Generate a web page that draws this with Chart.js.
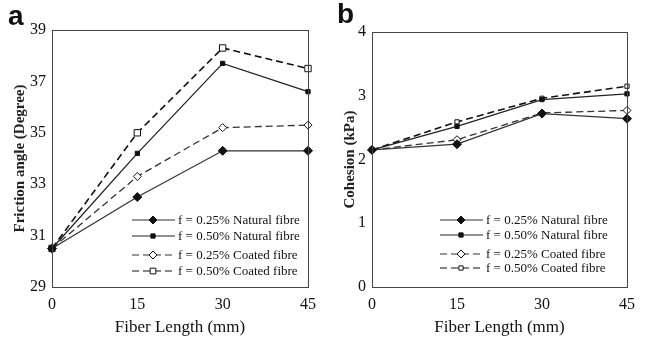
<!DOCTYPE html>
<html>
<head>
<meta charset="utf-8">
<script src="https://cdn.jsdelivr.net/npm/chart.js@4.4.0/dist/chart.umd.min.js"></script>
<style>
  body { margin: 0; background: #fff; }
  #wrap { position: relative; width: 655px; height: 341px; overflow: hidden; }
  .box { position: absolute; top: 0; height: 341px; }
  .panel { position: absolute; font-family: "Liberation Sans", Arial, sans-serif; font-weight: bold; font-size: 28px; line-height: 28px; color: #111; }
</style>
</head>
<body>
<div id="wrap">
  <div class="box" style="left:0;width:330px"><canvas id="chartA"></canvas></div>
  <div class="box" style="left:330px;width:325px"><canvas id="chartB"></canvas></div>
  <div class="panel" style="left:8px;top:2px">a</div>
  <div class="panel" style="left:337px;top:0px">b</div>
</div>
<script>
const fiberLengths = ['0', '15', '30', '45'];
const seriesLabels = ['f = 0.25% Natural fibre', 'f = 0.50% Natural fibre', 'f = 0.25% Coated fibre', 'f = 0.50% Coated fibre'];

// friction angle (degree)
const frictionNat025 = [30.5, 32.5, 34.3, 34.3];
const frictionNat050 = [30.5, 34.2, 37.7, 36.6];
const frictionCoat025 = [30.5, 33.3, 35.2, 35.3];
const frictionCoat050 = [30.5, 35.0, 38.3, 37.5];

// cohesion (kPa)
const cohesionNat025 = [2.15, 2.24, 2.72, 2.64];
const cohesionNat050 = [2.15, 2.52, 2.94, 3.03];
const cohesionCoat025 = [2.15, 2.31, 2.73, 2.77];
const cohesionCoat050 = [2.15, 2.59, 2.96, 3.15];

const serif = '"Liberation Serif", "Times New Roman", serif';

function makeSets(vals, sqOpen) {
    const styles = [
        { color: '#333', dash: [], style: 'rectRot', r: 4.5, fill: '#111', bw: 1 },
        { color: '#222', dash: [], style: 'rect', r: 3, fill: '#111', bw: 1 },
        { color: '#333', dash: [7, 4], style: 'rectRot', r: 4, fill: '#fff', bw: 1 },
        { color: '#111', dash: [7, 4], style: 'rect', r: sqOpen, fill: '#fff', bw: 1 }
    ];
    return vals.map((v, i) => ({
        label: seriesLabels[i],
        data: v,
        borderColor: styles[i].color,
        borderWidth: i == 3 ? 1.6 : 1.3,
        borderDash: styles[i].dash,
        pointStyle: styles[i].style,
        pointRadius: styles[i].r,
        pointBackgroundColor: styles[i].fill,
        pointBorderColor: '#111',
        pointBorderWidth: styles[i].bw,
        tension: 0,
        clip: false
    }));
}

// frame + legend drawn inside the plot
const framePlugin = {
    id: 'frame',
    afterDraw(chart) {
        const ctx = chart.ctx;
        const a = chart.chartArea;
        ctx.save();
        ctx.strokeStyle = '#444';
        ctx.lineWidth = 1;
        ctx.strokeRect(Math.round(a.left) + 0.5, Math.round(a.top) + 0.5, Math.round(a.right - a.left), Math.round(a.bottom - a.top));

        const lg = chart.options.plugins.frame;
        ctx.font = '13px ' + serif;
        ctx.textBaseline = 'middle';
        chart.data.datasets.forEach((ds, i) => {
            const y = lg.y + lg.rows[i];
            const x0 = lg.x;
            ctx.strokeStyle = ds.borderColor;
            ctx.lineWidth = 1.2;
            ctx.setLineDash(ds.borderDash);
            ctx.beginPath();
            ctx.moveTo(x0, y);
            ctx.lineTo(x0 + 43, y);
            ctx.stroke();
            ctx.setLineDash([]);
            ctx.fillStyle = ds.pointBackgroundColor;
            ctx.strokeStyle = '#111';
            ctx.lineWidth = 1;
            Chart.helpers.drawPoint(ctx, { pointStyle: ds.pointStyle, radius: Math.min(ds.pointRadius, 4), rotation: 0, borderWidth: 1 }, x0 + 21, y);
            ctx.fillStyle = '#111';
            ctx.fillText(ds.label, x0 + 46, y + 1);
        });
        ctx.restore();
    }
};

function makeChart(id, sets, yMin, yMax, yStep, yTitle, yWidth, pad, legendPos) {
    return new Chart(document.getElementById(id), {
        type: 'line',
        data: { labels: fiberLengths, datasets: sets },
        plugins: [framePlugin],
        options: {
            responsive: true,
            maintainAspectRatio: false,
            animation: false,
            layout: { padding: pad },
            plugins: {
                legend: { display: false },
                tooltip: { enabled: false },
                frame: legendPos
            },
            scales: {
                x: {
                    offset: false,
                    grid: { display: false, drawTicks: false },
                    border: { display: false },
                    ticks: { color: '#111', font: { family: serif, size: 16 }, padding: 8, maxRotation: 0 },
                    title: { display: true, text: 'Fiber Length (mm)', color: '#111', font: { family: serif, size: 17 }, padding: { top: 0, bottom: 3 } },
                    afterFit(s) { s.height = 54; }
                },
                y: {
                    min: yMin, max: yMax,
                    grid: { display: false, drawTicks: false },
                    border: { display: false },
                    ticks: { stepSize: yStep, color: '#111', font: { family: serif, size: 16 }, padding: 6 },
                    title: { display: true, text: yTitle, color: '#222', font: { family: serif, size: 15, weight: 'bold' }, padding: { top: 11, bottom: 0 } },
                    afterFit(s) { s.width = yWidth; }
                }
            }
        }
    });
}

makeChart('chartA',
    makeSets([frictionNat025, frictionNat050, frictionCoat025, frictionCoat050], 4.5),
    29, 39, 2, 'Friction angle (Degree)', 52,
    { top: 30, right: 22, left: 0, bottom: 0 },
    { x: 132, y: 220, rows: [0, 16, 35, 51] });

makeChart('chartB',
    makeSets([cohesionNat025, cohesionNat050, cohesionCoat025, cohesionCoat050], 3),
    0, 4, 1, 'Cohesion (kPa)', 42,
    { top: 32, right: 28, left: 0, bottom: 0 },
    { x: 110, y: 220, rows: [0, 15, 34, 48] });
</script>
</body>
</html>
